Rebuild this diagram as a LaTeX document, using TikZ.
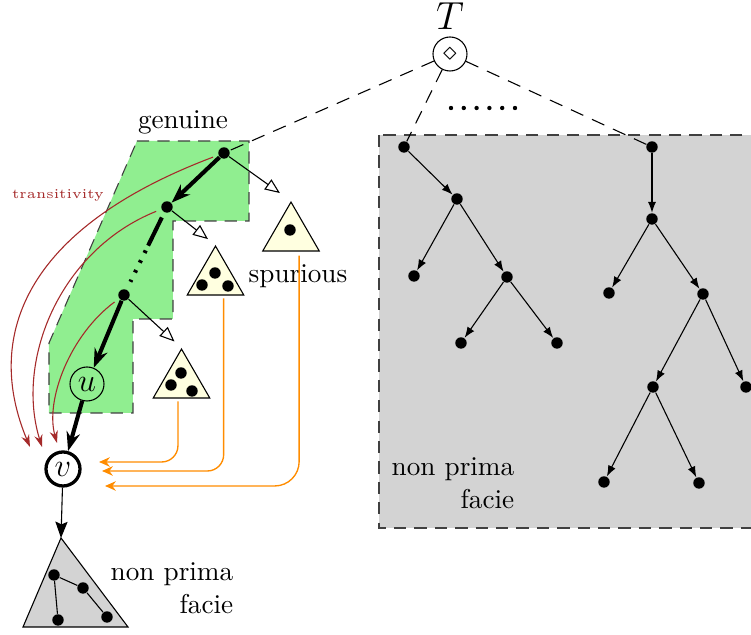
\documentclass[tikz,border=0pt]{standalone}
\usepackage{tikz}
\usetikzlibrary{arrows.meta,shapes.geometric}

\definecolor{genuinegreen}{RGB}{144,238,144}
\definecolor{boxgray}{RGB}{211,211,211}
\definecolor{subyellow}{RGB}{255,255,224}
\definecolor{transred}{RGB}{165,42,42}
\definecolor{linkorange}{RGB}{255,140,0}

\tikzset{
  dot/.style={circle, fill=black, inner sep=0pt, minimum size=4.2pt},
  smalldot/.style={circle, fill=black, inner sep=0pt, minimum size=1.6pt},
  state/.style={circle, draw, inner sep=0pt, minimum size=12.5pt, font=\large},
  subtree/.style={regular polygon, regular polygon sides=3, draw, fill=subyellow, inner sep=0pt, minimum size=24pt},
  region/.style={draw=black!75, dash pattern=on 4.5pt off 3pt},
  rootedge/.style={dash pattern=on 5pt off 3.5pt},
  treeedge/.style={-{Latex[length=4pt,width=3pt]}},
  mainedge/.style={line width=1.5pt, -{Stealth[length=7pt,width=5pt]}},
  spuredge/.style={-{Triangle[open,length=5.5pt,width=4.5pt]}},
  transedge/.style={transred, shorten <=2pt, -{Stealth[length=4.5pt,width=3pt]}},
  backedge/.style={linkorange, line width=0.5pt, rounded corners=6pt, -{Stealth[length=4pt,width=3.5pt]}}
}

\begin{document}
\begin{tikzpicture}[x=0.3676pt,y=-0.3676pt]
\clip (0,0) rectangle (751,635);

\draw[region, fill=genuinegreen] (137,141) -- (249,141) -- (249,221) -- (173,221) -- (173,319) -- (133,319) -- (133,413) -- (49,413) -- (49,343) -- cycle;
\draw[region, fill=boxgray] (379,135) rectangle (790,528);

\node[font=\Large, inner sep=0pt] (tname) at (450,16) {$T$};
\node[state, font=\normalsize] (root) at (450,54) {$\diamond$};
\foreach \i in {0,...,5}
  \node[smalldot] (etc\i) at (451+12.8*\i,108) {};
\node (genuine) at (183,122) {genuine};
\node (spurious) at (298,276) {spurious};
\node[align=right] (npfbox) at (453,483) {non prima\\facie};
\node[align=right] (npftri) at (172,588) {non prima\\facie};
\node[transred, font=\tiny] (trans) at (58,195) {transitivity};

\node[dot] (g1) at (224,153) {};
\node[dot] (g2) at (167,207) {};
\node[dot] (g3) at (124,295) {};
\node[state] (u) at (87,384) {$u$};
\node[state, line width=1.2pt] (v) at (63,469) {$v$};

\node[subtree] (s1) at (291,234.7) {};
\node[subtree] (s2) at (215.5,278.7) {};
\node[subtree] (s3) at (181.5,381.7) {};
\node[dot] (s1a) at (290,230) {};
\node[dot] (s2a) at (215,273) {};
\node[dot] (s2b) at (202,285) {};
\node[dot] (s2c) at (228,286) {};
\node[dot] (s3a) at (181,373) {};
\node[dot] (s3b) at (171,385) {};
\node[dot] (s3c) at (192,391) {};

\node[dot] (a1) at (404,147) {};
\node[dot] (a2) at (457,199) {};
\node[dot] (a3) at (414,276) {};
\node[dot] (a4) at (507,277) {};
\node[dot] (a5) at (461,343) {};
\node[dot] (a6) at (557,343) {};

\node[dot] (b1) at (652,147) {};
\node[dot] (b2) at (652,219) {};
\node[dot] (b3) at (609,293) {};
\node[dot] (b4) at (703,294) {};
\node[dot] (b5) at (653,387) {};
\node[dot] (b6) at (746,387) {};
\node[dot] (b7) at (604,482) {};
\node[dot] (b8) at (699,483) {};

\coordinate (p1) at (61,538);
\coordinate (p2) at (128,627);
\coordinate (p3) at (23,627);
\draw[fill=boxgray] (p1) -- (p2) -- (p3) -- cycle;
\node[dot] (n1) at (54,575) {};
\node[dot] (n2) at (83,588) {};
\node[dot] (n3) at (58,620) {};
\node[dot] (n4) at (107,617) {};

\draw[rootedge] (root) -- (g1);
\draw[rootedge] (root) -- (a1);
\draw[rootedge] (root) -- (b1);

\draw[treeedge] (a1) -- (a2);
\draw[treeedge] (a2) -- (a3);
\draw[treeedge] (a2) -- (a4);
\draw[treeedge] (a4) -- (a5);
\draw[treeedge] (a4) -- (a6);

\draw[treeedge] (b1) -- (b2);
\draw[treeedge] (b2) -- (b3);
\draw[treeedge] (b2) -- (b4);
\draw[treeedge] (b4) -- (b5);
\draw[treeedge] (b4) -- (b6);
\draw[treeedge] (b5) -- (b7);
\draw[treeedge] (b5) -- (b8);

\draw[mainedge] (g1) -- (g2);
\draw[line width=1.5pt, shorten <=2pt, shorten >=2pt, dash pattern=on 11.5pt off 2pt on 1pt off 3pt on 1pt off 3pt on 1pt off 3pt on 0.8pt off 20pt] (g2) -- (g3);
\draw[mainedge] (g3) -- (u);
\draw[mainedge] (u) -- (v);

\draw[spuredge, shorten >=5pt] (g1) -- (s1.corner 1);
\draw[spuredge, shorten >=3.5pt] (g2) -- (s2.corner 1);
\draw[spuredge, shorten >=3.5pt] (g3) -- (s3.corner 1);

\draw[-{Stealth[length=6pt,width=4.5pt,inset=1pt]}] (v) -- (p1);
\draw (n1) -- (n2);
\draw (n1) -- (n3);
\draw (n2) -- (n4);

\coordinate (r1) at (30,447);
\coordinate (r2) at (42,447);
\coordinate (r3) at (57,443);
\draw[transedge] (g1) .. controls (20,230) and (-15,340) .. (r1);
\draw[transedge] (g2) .. controls (60,250) and (15,360) .. (r2);
\draw[transedge] (g3) .. controls (70,335) and (45,400) .. (r3);

\coordinate (o1) at (99,462);
\coordinate (o2) at (102,471);
\coordinate (o3) at (105,486);
\draw[backedge] ([xshift=-1.3pt,yshift=-1pt]s3.south) |- (o1);
\draw[backedge] ([xshift=3pt,yshift=-1pt]s2.south) |- (o2);
\draw[backedge, rounded corners=9pt] ([xshift=3pt,yshift=-1.5pt]s1.south) |- (o3);

\end{tikzpicture}
\end{document}
